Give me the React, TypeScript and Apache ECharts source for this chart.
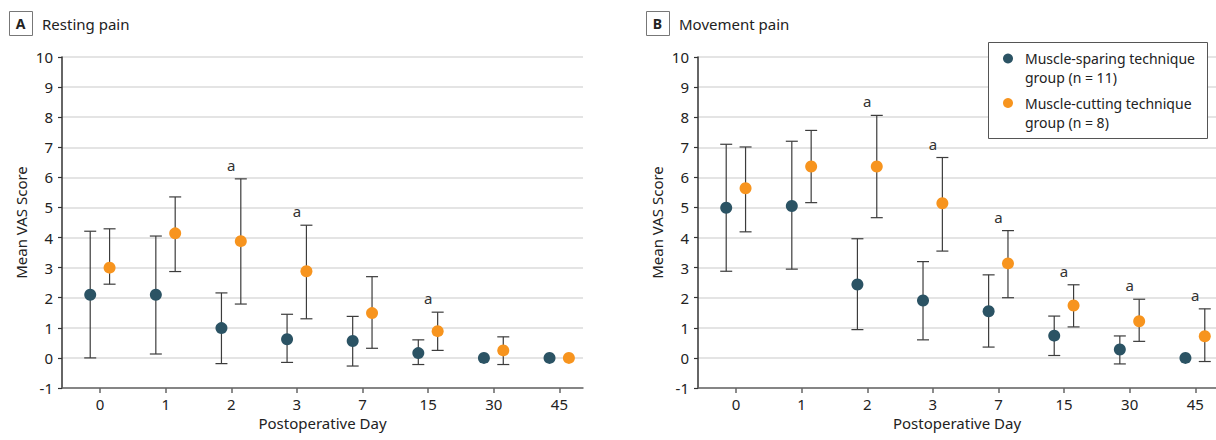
import React, { useEffect, useRef } from 'react';
import * as echarts from 'echarts';

// ---------- data ----------
const days = ['0', '1', '2', '3', '7', '15', '30', '45'];
const dayIndex = [0, 1, 2, 3, 4, 5, 6, 7];

const panelTitles = ['Resting pain', 'Movement pain'];
const panelLetters = ['A', 'B'];
const legendLabels = ['Muscle-sparing technique\ngroup (n = 11)', 'Muscle-cutting technique\ngroup (n = 8)'];

// Panel A — resting pain
const restSparingMean = [2.1, 2.1, 0.99, 0.62, 0.56, 0.16, 0.0, 0.0];
const restSparingLow = [0.0, 0.13, -0.19, -0.15, -0.27, -0.22, null, null];
const restSparingHigh = [4.21, 4.05, 2.16, 1.45, 1.38, 0.6, null, null];
const restCuttingMean = [3.0, 4.14, 3.88, 2.88, 1.49, 0.89, 0.25, 0.0];
const restCuttingLow = [2.45, 2.87, 1.79, 1.3, 0.32, 0.25, -0.22, null];
const restCuttingHigh = [4.29, 5.35, 5.95, 4.41, 2.7, 1.52, 0.7, null];
const restSignificant = [false, false, true, true, false, true, false, false];

// Panel B — movement pain
const moveSparingMean = [4.99, 5.05, 2.44, 1.91, 1.55, 0.74, 0.28, 0.0];
const moveSparingLow = [2.88, 2.95, 0.94, 0.6, 0.36, 0.08, -0.2, null];
const moveSparingHigh = [7.1, 7.2, 3.96, 3.2, 2.76, 1.39, 0.73, null];
const moveCuttingMean = [5.64, 6.36, 6.36, 5.14, 3.14, 1.74, 1.22, 0.72];
const moveCuttingLow = [4.19, 5.16, 4.66, 3.55, 2.0, 1.03, 0.55, -0.12];
const moveCuttingHigh = [7.01, 7.56, 8.06, 6.66, 4.23, 2.43, 1.95, 1.63];
const moveSignificant = [false, false, true, true, true, true, true, true];

const sigMark = 'a';

// ---------- styles ----------
const FONT = 'Noto Sans';
const BLUE = '#2b5364';
const ORANGE = '#f7941e';
const BAR = '#3c3c3c';
const SPARING_OFFSET = -0.15;
const CUTTING_OFFSET = 0.145;

type N = number | null;

const points = (means: N[], offset: number) =>
  means.map((v, i) => (v == null ? null : [dayIndex[i] + offset, v])).filter(Boolean);

const bars = (low: N[], high: N[], offset: number) =>
  low
    .map((l, i) => (l == null || high[i] == null ? null : [dayIndex[i] + offset, l, high[i]]))
    .filter(Boolean);

const sigPoints = (flags: boolean[], high: N[]) =>
  flags.map((f, i) => (f ? [dayIndex[i], high[i] as number] : null)).filter(Boolean);

const errorBarRender = (params: any, api: any) => {
  const x = api.value(0);
  const lo = api.coord([x, api.value(1)]);
  const hi = api.coord([x, api.value(2)]);
  const cap = 6;
  const style = { stroke: BAR, lineWidth: 1.2 };
  return {
    type: 'group',
    children: [
      { type: 'line', shape: { x1: lo[0], y1: lo[1], x2: hi[0], y2: hi[1] }, style },
      { type: 'line', shape: { x1: hi[0] - cap, y1: hi[1], x2: hi[0] + cap, y2: hi[1] }, style },
      { type: 'line', shape: { x1: lo[0] - cap, y1: lo[1], x2: lo[0] + cap, y2: lo[1] }, style },
    ],
  };
};

const sigRender = (params: any, api: any) => {
  const p = api.coord([api.value(0), api.value(1)]);
  return {
    type: 'text',
    x: p[0],
    y: p[1] - 14,
    style: {
      text: sigMark,
      fill: '#333',
      font: `15px "${FONT}"`,
      align: 'center',
      verticalAlign: 'middle',
    },
  };
};

export default function App() {
  const ref = useRef<HTMLDivElement>(null);

  useEffect(() => {
    document.body.style.margin = '0';
    const chart = echarts.init(ref.current!, null, { renderer: 'svg' });

    const grids = [
      { left: 62, top: 57, width: 521, height: 331 },
      { left: 698, top: 57, width: 518, height: 331 },
    ];
    const xMax = [7.36, 7.316];

    const xAxes = grids.map((_, g) => ({
      type: 'value',
      gridIndex: g,
      min: -0.58,
      max: xMax[g],
      axisLine: { show: true, onZero: false, lineStyle: { color: '#666', width: 1.5 } },
      axisTick: { show: true, customValues: dayIndex, length: 5, lineStyle: { color: '#666', width: 1.5 } },
      axisLabel: {
        customValues: dayIndex,
        formatter: (v: number) => days[Math.round(v)],
        fontSize: 15,
        color: '#222',
        fontFamily: FONT,
        margin: 8,
      },
      splitLine: { show: false },
      name: 'Postoperative Day',
      nameLocation: 'middle',
      nameGap: 27,
      nameTextStyle: { fontSize: 15, color: '#222', fontFamily: FONT },
    }));

    const yAxes = grids.map((_, g) => ({
      type: 'value',
      gridIndex: g,
      min: -1,
      max: 10,
      interval: 1,
      axisLine: { show: true, onZero: false, lineStyle: { color: '#333', width: 1.5 } },
      axisTick: { show: true, length: 4, lineStyle: { color: '#333', width: 1.2 } },
      axisLabel: { fontSize: 15, color: '#222', fontFamily: FONT, margin: 9 },
      splitLine: { show: true, lineStyle: { color: '#e4e4e4', width: 2 } },
      name: 'Mean VAS Score',
      nameLocation: 'middle',
      nameGap: 34,
      nameTextStyle: { fontSize: 15, color: '#222', fontFamily: FONT },
    }));

    const panels = [
      {
        sm: restSparingMean, sl: restSparingLow, sh: restSparingHigh,
        cm: restCuttingMean, cl: restCuttingLow, ch: restCuttingHigh, sig: restSignificant,
      },
      {
        sm: moveSparingMean, sl: moveSparingLow, sh: moveSparingHigh,
        cm: moveCuttingMean, cl: moveCuttingLow, ch: moveCuttingHigh, sig: moveSignificant,
      },
    ];

    const series: any[] = [];
    panels.forEach((p, g) => {
      series.push(
        {
          type: 'custom', xAxisIndex: g, yAxisIndex: g, z: 2,
          renderItem: errorBarRender, data: bars(p.sl, p.sh, SPARING_OFFSET),
          encode: { x: 0, y: [1, 2] }, silent: true,
        },
        {
          type: 'custom', xAxisIndex: g, yAxisIndex: g, z: 2,
          renderItem: errorBarRender, data: bars(p.cl, p.ch, CUTTING_OFFSET),
          encode: { x: 0, y: [1, 2] }, silent: true,
        },
        {
          type: 'scatter', name: legendLabels[0], xAxisIndex: g, yAxisIndex: g, z: 3,
          symbolSize: 12, itemStyle: { color: BLUE, opacity: 1 },
          data: points(p.sm, SPARING_OFFSET),
        },
        {
          type: 'scatter', name: legendLabels[1], xAxisIndex: g, yAxisIndex: g, z: 3,
          symbolSize: 12, itemStyle: { color: ORANGE, opacity: 1 },
          data: points(p.cm, CUTTING_OFFSET),
        },
        {
          type: 'custom', xAxisIndex: g, yAxisIndex: g, z: 4,
          renderItem: sigRender, data: sigPoints(p.sig, p.ch),
          encode: { x: 0, y: 1 }, silent: true,
        }
      );
    });

    const titleGraphics: any[] = [];
    const titleX = [9, 646];
    panelLetters.forEach((letter, i) => {
      titleGraphics.push(
        {
          type: 'rect', left: titleX[i], top: 11,
          shape: { width: 23, height: 24 },
          style: { fill: '#fff', stroke: '#777', lineWidth: 1 },
        },
        {
          type: 'text', x: titleX[i] + 11.5, y: 23.5,
          style: {
            text: letter, fill: '#222', font: `bold 14px "${FONT}"`,
            align: 'center', verticalAlign: 'middle',
          },
        },
        {
          type: 'text', x: titleX[i] + 33, y: 24,
          style: {
            text: panelTitles[i], fill: '#222', font: `15px "${FONT}"`,
            align: 'left', verticalAlign: 'middle',
          },
        }
      );
    });

    const legendGraphics: any[] = [
      {
        type: 'rect', left: 988, top: 42,
        shape: { width: 219, height: 96 },
        style: { fill: '#fff', stroke: '#555', lineWidth: 1 },
        z: 10,
      },
    ];
    [BLUE, ORANGE].forEach((c, i) => {
      legendGraphics.push(
        {
          type: 'circle', shape: { cx: 1008, cy: 58.5 + i * 44.5, r: 5 },
          style: { fill: c }, z: 11,
        },
        {
          type: 'text', x: 1025, y: 49 + i * 44.5,
          style: {
            text: legendLabels[i], fill: '#222', font: `14px "${FONT}"`,
            lineHeight: 19, align: 'left', verticalAlign: 'top',
          },
          z: 11,
        }
      );
    });

    chart.setOption({
      animation: false,
      backgroundColor: '#fff',
      textStyle: { fontFamily: FONT },
      grid: grids,
      xAxis: xAxes,
      yAxis: yAxes,
      series,
      graphic: [...titleGraphics, ...legendGraphics],
    });

    return () => chart.dispose();
  }, []);

  return <div ref={ref} style={{ width: 1216, height: 440 }} />;
}
